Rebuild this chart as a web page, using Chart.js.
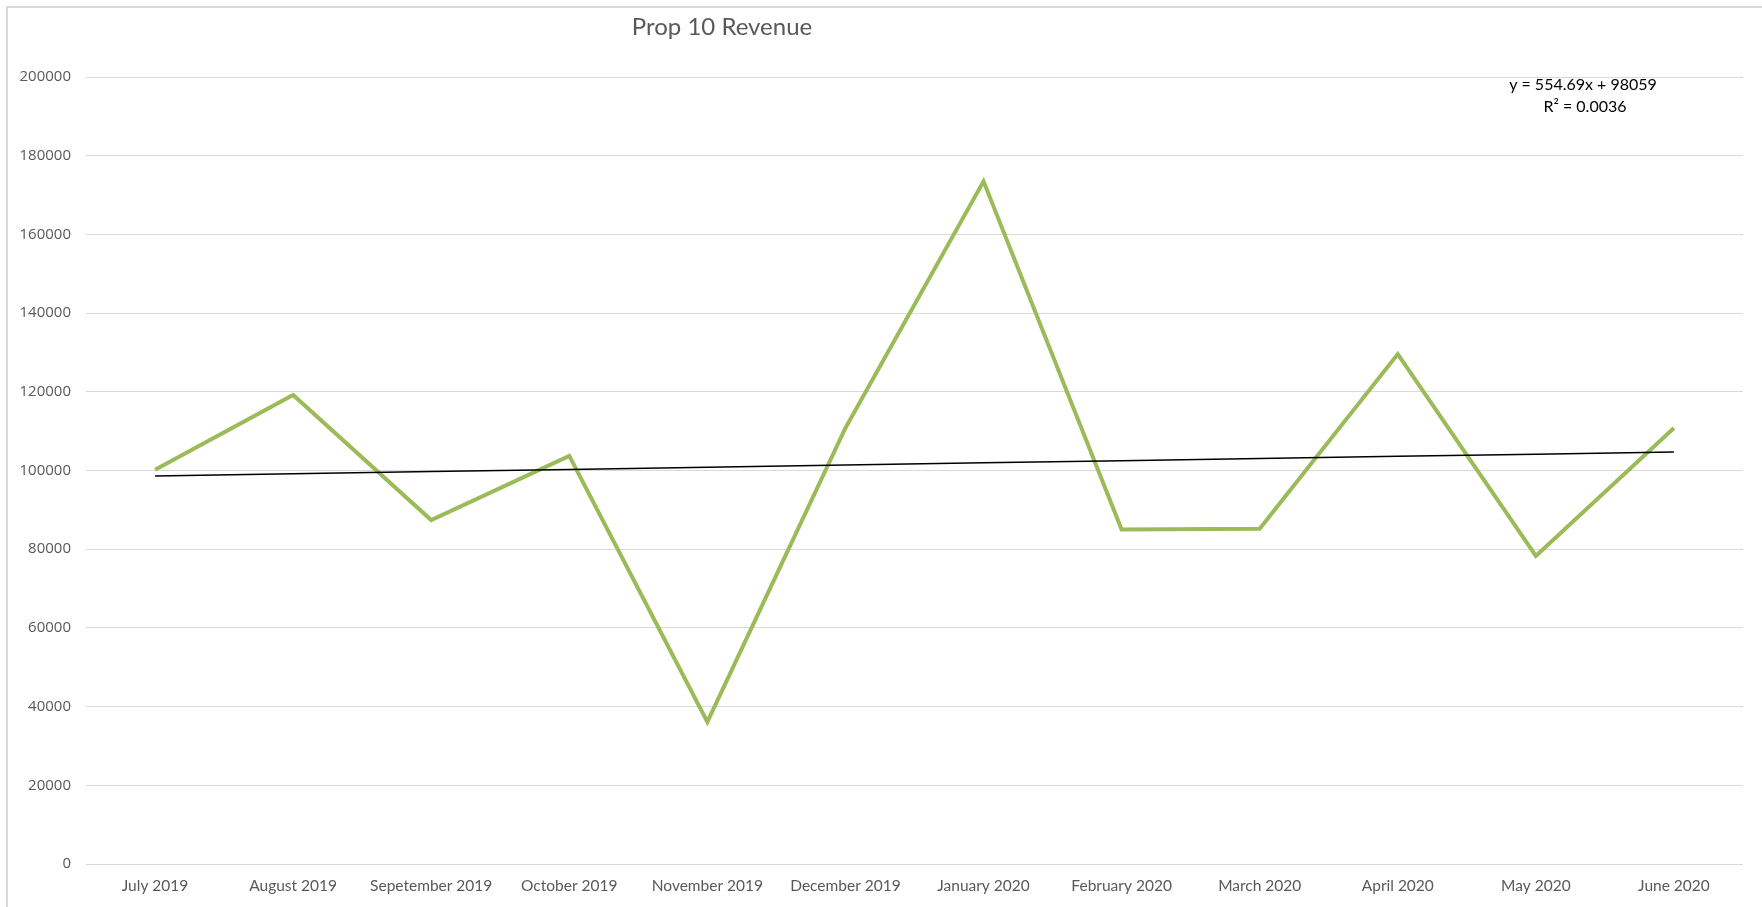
<!DOCTYPE html>
<html>
<head>
<meta charset="utf-8">
<script src="https://cdn.jsdelivr.net/npm/chart.js@4/dist/chart.umd.min.js"></script>
<style>
  html, body { margin: 0; padding: 0; background: #ffffff; overflow: hidden; }
  #wrap { position: relative; width: 1762px; height: 907px; }
  #frame { position: absolute; left: 6px; top: 6px; width: 1800px; height: 1000px;
           border-left: 2px solid #d9d9d9; border-top: 2px solid #d9d9d9; }
  canvas { position: absolute; left: 0; top: 0; }
</style>
</head>
<body>
<div id="wrap">
  <div id="frame"></div>
  <canvas id="c" width="1762" height="907"></canvas>
</div>
<script>
const chartTitle = "Prop 10 Revenue";
const categories = ["July 2019", "August 2019", "Sepetember 2019", "October 2019", "November 2019",
  "December 2019", "January 2020", "February 2020", "March 2020", "April 2020", "May 2020", "June 2020"];
const revenue = [100200, 119200, 87400, 103700, 36100, 110800, 173500, 85000, 85200, 129600, 78300, 110800];
const TREND_SLOPE = 554.69;
const TREND_INTERCEPT = 98059;
const trendLabel = ["y = 554.69x + 98059", "R\u00B2 = 0.0036"];
const yMin = 0, yMax = 200000, yStep = 20000;

const trend = categories.map((_, i) => TREND_INTERCEPT + TREND_SLOPE * (i + 1));

const textPlugin = {
  id: 'texts',
  afterDraw(chart) {
    const ctx = chart.ctx;
    ctx.save();
    ctx.textAlign = 'center';
    ctx.textBaseline = 'middle';
    ctx.fillStyle = '#595959';
    ctx.font = '24px Lato';
    ctx.fillText(chartTitle, 722, 27);
    ctx.fillStyle = '#000000';
    ctx.font = '16px Lato';
    ctx.fillText(trendLabel[0], 1583, 85);
    ctx.fillText(trendLabel[1], 1585, 107);
    ctx.restore();
  }
};

new Chart(document.getElementById('c'), {
  type: 'line',
  data: {
    labels: categories,
    datasets: [
      { label: 'Revenue', data: revenue, borderColor: '#9BBB59', borderWidth: 4,
        pointRadius: 0, tension: 0, fill: false, borderJoinStyle: 'miter', order: 1 },
      { label: 'Linear (Revenue)', data: trend, borderColor: '#000000', borderWidth: 1.5,
        pointRadius: 0, tension: 0, fill: false, order: 0 }
    ]
  },
  options: {
    responsive: false,
    animation: false,
    layout: { padding: { left: 0, right: 19, top: 77, bottom: 0 } },
    plugins: { legend: { display: false }, title: { display: false }, tooltip: { enabled: false } },
    scales: {
      x: {
        offset: true,
        grid: { display: false, drawTicks: false },
        border: { display: false },
        ticks: { color: '#595959', font: { family: 'Lato', size: 15.5 }, padding: 13, maxRotation: 0, autoSkip: false },
        afterFit(scale) { scale.height = 43; }
      },
      y: {
        min: yMin, max: yMax,
        grid: { color: '#d9d9d9', lineWidth: 1, drawTicks: false },
        border: { display: false },
        ticks: { stepSize: yStep, color: '#595959', font: { family: 'Open Sans', size: 15 }, padding: 15,
                 callback: (v) => String(v) },
        afterFit(scale) { scale.width = 86; }
      }
    }
  },
  plugins: [textPlugin]
});
</script>
</body>
</html>
